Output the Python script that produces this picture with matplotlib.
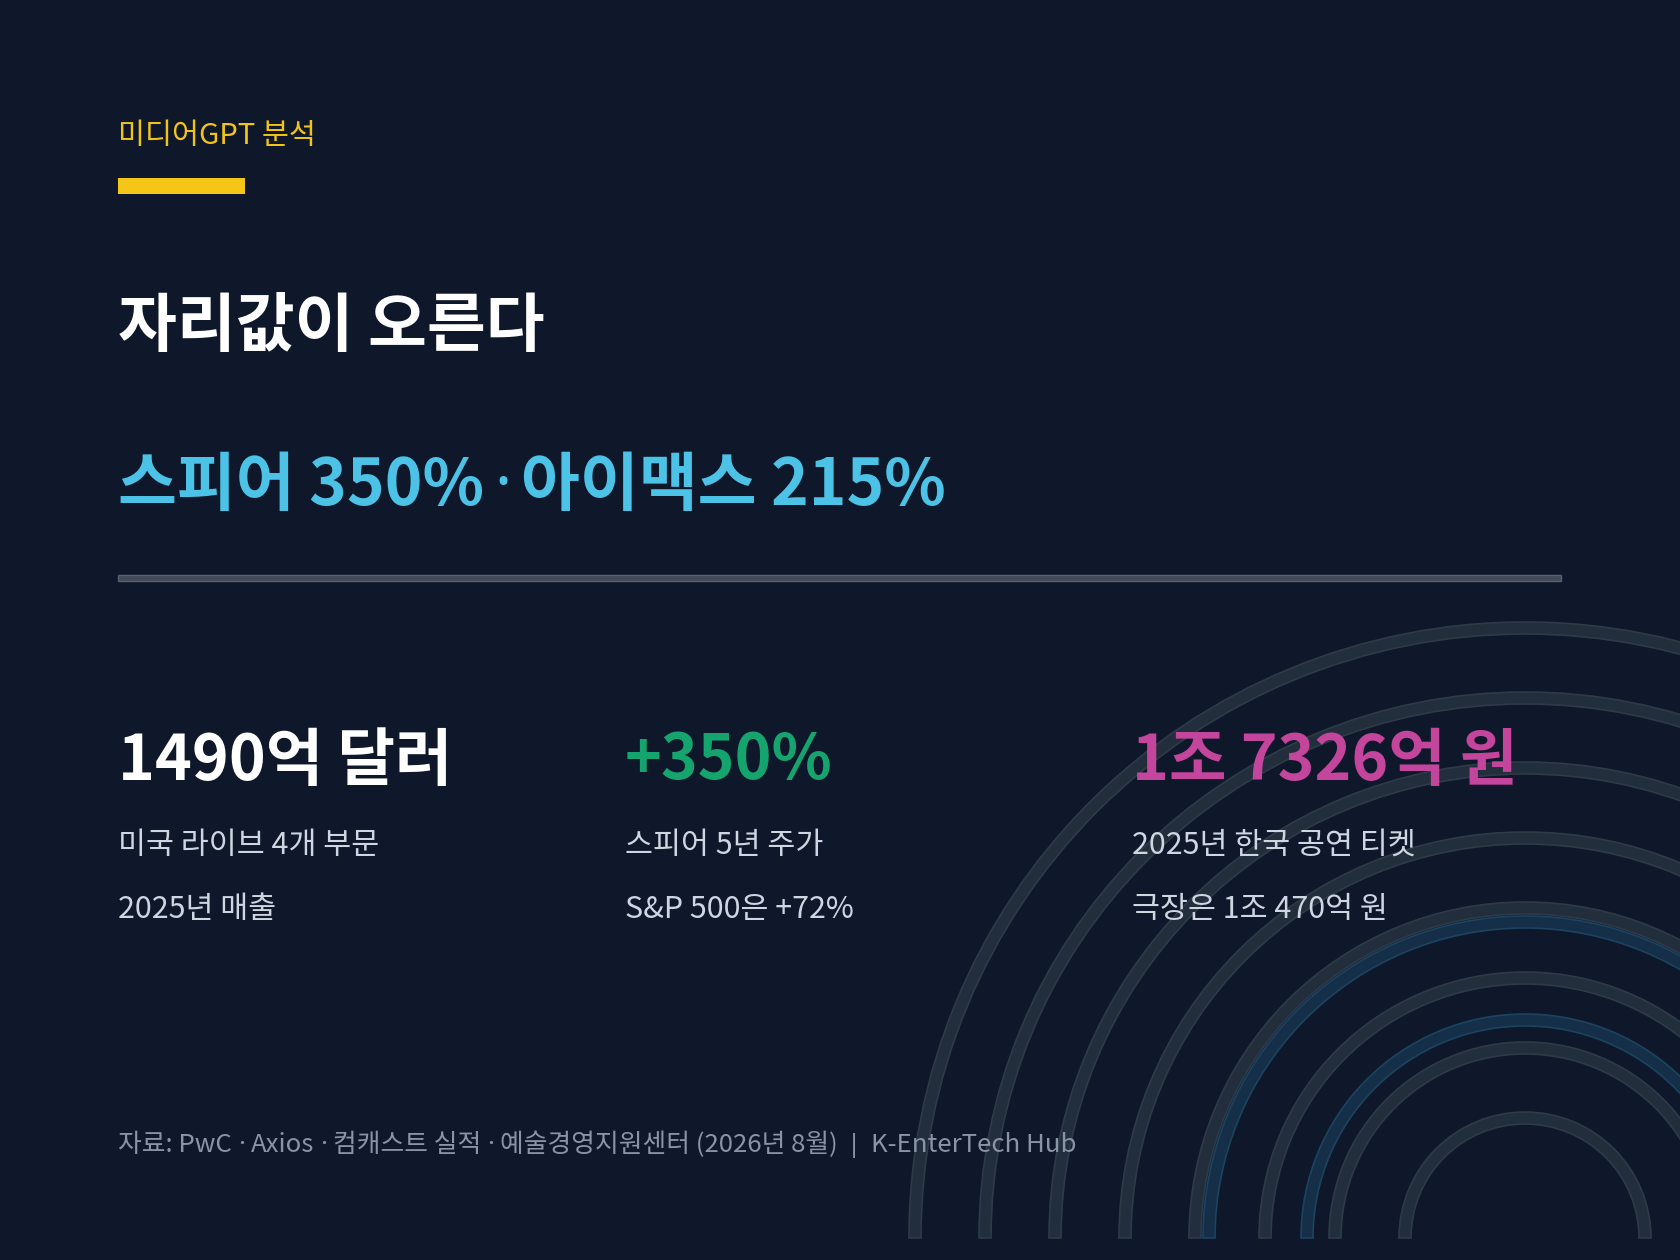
import matplotlib
matplotlib.use('Agg')
import matplotlib.pyplot as plt
from matplotlib.patches import Rectangle, Wedge

plt.rcParams['font.family'] = ['Noto Sans CJK KR', 'DejaVu Sans']

# 카드 텍스트
kicker = '미디어GPT 분석'
title = '자리값이 오른다'
subtitle_parts = ['스피어 350%', '아이맥스 215%']
stat_values = ['1490억 달러', '+350%', '1조 7326억 원']
stat_line1 = ['미국 라이브 4개 부문', '스피어 5년 주가', '2025년 한국 공연 티켓']
stat_line2 = ['2025년 매출', 'S&P 500은 +72%', '극장은 1조 470억 원']
source_parts = ['자료: PwC', 'Axios', '컴캐스트 실적', '예술경영지원센터 (2026년 8월)']
source_brand = 'K-EnterTech Hub'

# 배경 원호 반지름
gray_radii = [120, 190, 260, 330, 400, 470, 540, 610]
blue_radii = [218, 316]

BG = '#0e182a'
W, H = 1680, 1260
PT = 0.72  # px -> pt (dpi 100)

fig = plt.figure(figsize=(W / 100, H / 100), dpi=100, facecolor=BG)
ax = fig.add_axes([0, 0, 1, 1])
ax.set_xlim(0, W)
ax.set_ylim(H, 0)
ax.set_facecolor(BG)
ax.axis('off')
renderer = fig.canvas.get_renderer()


def draw_joined(x, y, parts, sep, gap, **kw):
    # 가운뎃점은 좁은 라틴 글꼴로, 조각 사이 간격은 직접 맞춤
    for i, p in enumerate(parts):
        if i > 0:
            d = ax.text(x + gap, y, sep, family=['Noto Sans', 'DejaVu Sans'], **kw)
            x = x + gap + d.get_window_extent(renderer).width + gap
        t = ax.text(x, y, p, **kw)
        x = x + t.get_window_extent(renderer).width
    return x


# 오른쪽 아래 동심 원호
cx, cy = 1525, 1238
for r in gray_radii:
    ax.add_patch(Wedge((cx, cy), r + 6, 180, 360, width=12,
                       facecolor='#232e3c', edgecolor='#2f3a49', linewidth=1.2))
for r in blue_radii:
    ax.add_patch(Wedge((cx, cy), r + 6, 180, 360, width=12,
                       facecolor='#142f47', edgecolor='#1c4360', linewidth=1.2))

x0 = 118
ax.text(x0, 136, kicker, color='#f2c41a', fontsize=29.3 * PT, va='center', ha='left')
ax.add_patch(Rectangle((x0, 178), 127, 15.5, facecolor='#f5c518', edgecolor='none'))

ax.text(x0, 327, title, color='white', fontsize=64 * PT, fontweight='bold', va='center')
draw_joined(x0, 486, subtitle_parts, '·', 10, color='#4cc3e6', fontsize=64 * PT,
            fontweight='bold', va='center')

ax.add_patch(Rectangle((x0, 575), 1443, 6, facecolor='#434a57', edgecolor='#5a616f', linewidth=1))

cols_x = [118, 625, 1132]
stat_colors = ['white', '#16a46e', '#c4459c']
for x, v, c, l1, l2 in zip(cols_x, stat_values, stat_colors, stat_line1, stat_line2):
    ax.text(x, 761, v, color=c, fontsize=62.5 * PT, fontweight='bold', va='center')
    ax.text(x, 845, l1, color='#cfd6e2', fontsize=30.4 * PT, va='center')
    ax.text(x, 909, l2, color='#cfd6e2', fontsize=30.4 * PT, va='center')

foot_kw = dict(color='#8a94a6', fontsize=25.8 * PT, va='center')
xe = draw_joined(x0, 1145, source_parts, '·', 6, **foot_kw)
bar = ax.text(xe + 9, 1145, '|', family=['Noto Sans', 'DejaVu Sans'], **foot_kw)
ax.text(xe + 9 + bar.get_window_extent(renderer).width + 10, 1145, source_brand, **foot_kw)

fig.savefig('out.png', dpi=100, facecolor=BG)
plt.close(fig)
